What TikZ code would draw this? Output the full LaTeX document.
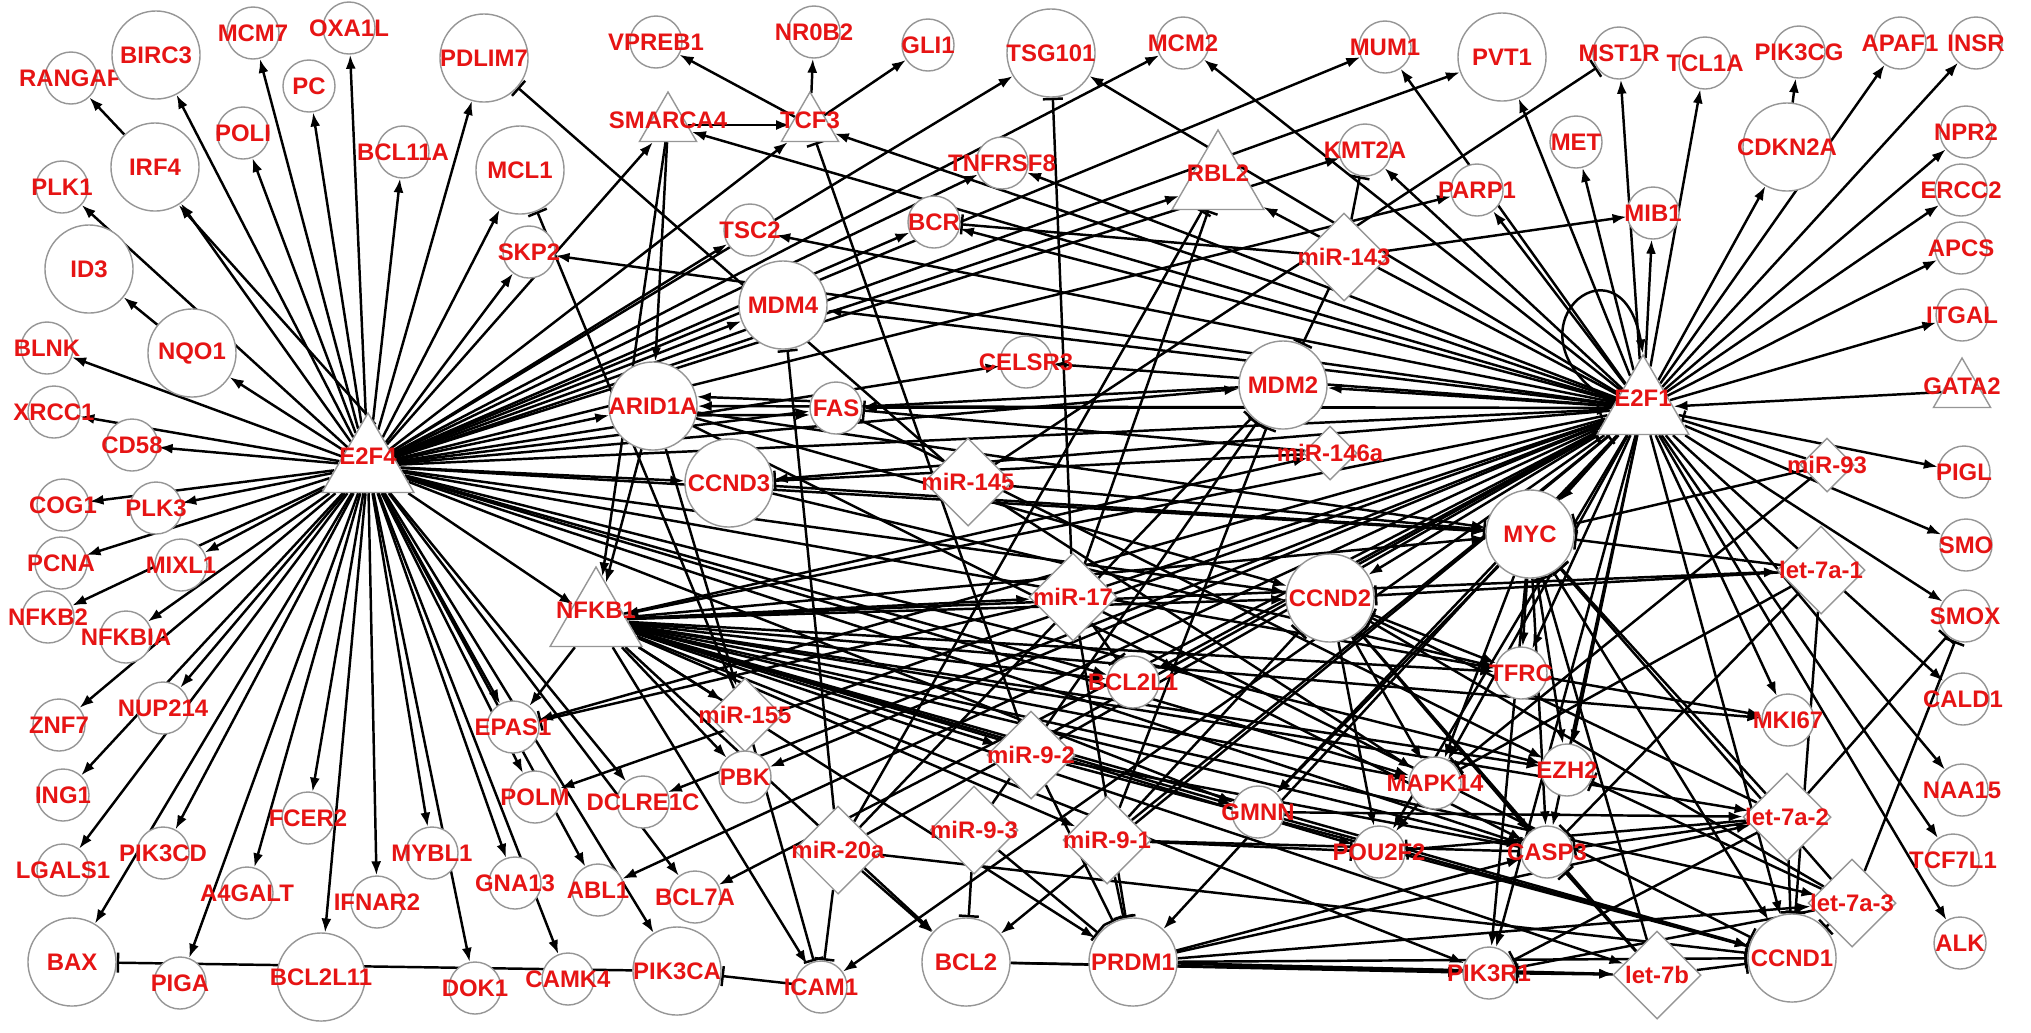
\documentclass[tikz,border=0pt]{standalone}
\usepackage{fontspec}
\setmainfont{Liberation Sans}
\usetikzlibrary{shapes,arrows.meta,backgrounds}
\definecolor{genered}{RGB}{230,20,20}
\definecolor{nodegray}{RGB}{150,150,150}

\begin{document}
\begin{tikzpicture}[
    x=0.01cm, y=-0.01cm,
    lbl/.style={font=\fontsize{6.8}{8}\selectfont\bfseries, text=genered, inner sep=0pt},
    tlbl/.style={lbl, yshift=0.1cm},
    tslbl/.style={lbl, yshift=0.05cm},
    gene/.style={circle, draw=nodegray, fill=white, line width=0.4pt, inner sep=0pt, minimum size=0.52cm},
    biggene/.style={gene, minimum size=0.88cm},
    tf/.style={regular polygon, regular polygon sides=3, draw=nodegray, fill=white, line width=0.4pt, inner sep=0pt, minimum size=1.06cm},
    smalltf/.style={tf, minimum size=0.66cm},
    mirna/.style={diamond, draw=nodegray, fill=white, line width=0.4pt, inner sep=0pt, minimum width=0.88cm, minimum height=0.88cm},
    midmirna/.style={mirna, minimum width=0.74cm, minimum height=0.74cm},
    smallmirna/.style={mirna, minimum width=0.54cm, minimum height=0.54cm},
    act/.style={-{Latex[length=1.4mm,width=1mm]}, line width=0.7pt},
    inh/.style={-{Bar[width=2mm]}, line width=0.7pt}
]
    \useasboundingbox (0,0) rectangle (2031,1032);

    % E2F4 hub and the genes round it
    \node[tf, label={[tlbl]center:E2F4}] (E2F4) at (368,466) {};
    \node[gene, label={[lbl]center:RANGAP}] (RANGAP) at (71,78) {};
    \node[biggene, label={[lbl]center:BIRC3}] (BIRC3) at (156,55) {};
    \node[gene, label={[lbl]center:MCM7}] (MCM7) at (253,33) {};
    \node[gene, label={[lbl]center:OXA1L}] (OXA1L) at (349,28) {};
    \node[gene, label={[lbl]center:PC}] (PC) at (309,86) {};
    \node[gene, label={[lbl]center:POLI}] (POLI) at (243,133) {};
    \node[gene, label={[lbl]center:BCL11A}] (BCL11A) at (403,152) {};
    \node[biggene, label={[lbl]center:PDLIM7}] (PDLIM7) at (484,58) {};
    \node[biggene, label={[lbl]center:MCL1}] (MCL1) at (520,170) {};
    \node[biggene, label={[lbl]center:IRF4}] (IRF4) at (155,167) {};
    \node[gene, label={[lbl]center:PLK1}] (PLK1) at (62,187) {};
    \node[biggene, label={[lbl]center:ID3}] (ID3) at (89,269) {};
    \node[biggene, label={[lbl]center:NQO1}] (NQO1) at (192,353) {};
    \node[gene, label={[lbl]center:BLNK}] (BLNK) at (47,348) {};
    \node[gene, label={[lbl]center:SKP2}] (SKP2) at (529,252) {};
    \node[gene, label={[lbl]center:XRCC1}] (XRCC1) at (54,412) {};
    \node[gene, label={[lbl]center:CD58}] (CD58) at (132,445) {};
    \node[gene, label={[lbl]center:COG1}] (COG1) at (63,505) {};
    \node[gene, label={[lbl]center:PLK3}] (PLK3) at (156,508) {};
    \node[gene, label={[lbl]center:PCNA}] (PCNA) at (61,563) {};
    \node[gene, label={[lbl]center:MIXL1}] (MIXL1) at (181,565) {};
    \node[gene, label={[lbl]center:NFKB2}] (NFKB2) at (48,617) {};
    \node[gene, label={[lbl]center:NFKBIA}] (NFKBIA) at (126,637) {};
    \node[gene, label={[lbl]center:ZNF7}] (ZNF7) at (59,725) {};
    \node[gene, label={[lbl]center:NUP214}] (NUP214) at (163,708) {};
    \node[gene, label={[lbl]center:ING1}] (ING1) at (63,795) {};
    \node[gene, label={[lbl]center:LGALS1}] (LGALS1) at (63,870) {};
    \node[gene, label={[lbl]center:PIK3CD}] (PIK3CD) at (163,853) {};
    \node[gene, label={[lbl]center:FCER2}] (FCER2) at (308,818) {};
    \node[gene, label={[lbl]center:A4GALT}] (A4GALT) at (247,893) {};
    \node[gene, label={[lbl]center:MYBL1}] (MYBL1) at (432,853) {};
    \node[gene, label={[lbl]center:IFNAR2}] (IFNAR2) at (377,902) {};
    \node[gene, label={[lbl]center:GNA13}] (GNA13) at (515,883) {};
    \node[gene, label={[lbl]center:ABL1}] (ABL1) at (598,890) {};
    \node[gene, label={[lbl]center:EPAS1}] (EPAS1) at (513,727) {};
    \node[gene, label={[lbl]center:POLM}] (POLM) at (535,797) {};
    \node[biggene, label={[lbl]center:BAX}] (BAX) at (72,962) {};
    \node[gene, label={[lbl]center:PIGA}] (PIGA) at (180,983) {};
    \node[biggene, label={[lbl]center:BCL2L11}] (BCL2L11) at (321,977) {};
    \node[gene, label={[lbl]center:DOK1}] (DOK1) at (475,988) {};
    \node[gene, label={[lbl]center:CAMK4}] (CAMK4) at (568,979) {};
    \node[biggene, label={[lbl]center:PIK3CA}] (PIK3CA) at (677,971) {};

    % middle part
    \node[gene, label={[lbl]center:VPREB1}] (VPREB1) at (656,42) {};
    \node[gene, label={[lbl]center:NR0B2}] (NR0B2) at (814,32) {};
    \node[gene, label={[lbl]center:GLI1}] (GLI1) at (928,45) {};
    \node[biggene, label={[lbl]center:TSG101}] (TSG101) at (1051,53) {};
    \node[gene, label={[lbl]center:MCM2}] (MCM2) at (1183,43) {};
    \node[smalltf, label={[tslbl]center:SMARCA4}] (SMARCA4) at (668,125) {};
    \node[smalltf, label={[tslbl]center:TCF3}] (TCF3) at (810,125) {};
    \node[gene, label={[lbl]center:TNFRSF8}] (TNFRSF8) at (1002,163) {};
    \node[tf, label={[tlbl]center:RBL2}] (RBL2) at (1218,183) {};
    \node[gene, label={[lbl]center:TSC2}] (TSC2) at (750,230) {};
    \node[gene, label={[lbl]center:BCR}] (BCR) at (934,222) {};
    \node[biggene, label={[lbl]center:MDM4}] (MDM4) at (783,305) {};
    \node[gene, label={[lbl]center:CELSR3}] (CELSR3) at (1026,362) {};
    \node[biggene, label={[lbl]center:ARID1A}] (ARID1A) at (653,406) {};
    \node[gene, label={[lbl]center:FAS}] (FAS) at (836,408) {};
    \node[biggene, label={[lbl]center:MDM2}] (MDM2) at (1283,385) {};
    \node[biggene, label={[lbl]center:CCND3}] (CCND3) at (729,483) {};
    \node[mirna, label={[lbl]center:miR-145}] (mir145) at (968,482) {};
    \node[smallmirna, label={[lbl]center:miR-146a}] (mir146a) at (1330,453) {};
    \node[tf, label={[tlbl]center:NFKB1}] (NFKB1) at (596,620) {};
    \node[mirna, label={[lbl]center:miR-17}] (mir17) at (1073,597) {};
    \node[biggene, label={[lbl]center:CCND2}] (CCND2) at (1330,598) {};
    \node[gene, label={[lbl]center:BCL2L1}] (BCL2L1) at (1133,682) {};
    \node[midmirna, label={[lbl]center:miR-155}] (mir155) at (745,715) {};
    \node[gene, label={[lbl]center:PBK}] (PBK) at (745,777) {};
    \node[gene, label={[lbl]center:DCLRE1C}] (DCLRE1C) at (643,802) {};
    \node[mirna, label={[lbl]center:miR-9-2}] (mir9b) at (1031,755) {};
    \node[mirna, label={[lbl]center:miR-20a}] (mir20a) at (838,850) {};
    \node[mirna, label={[lbl]center:miR-9-3}] (mir9c) at (974,830) {};
    \node[mirna, label={[lbl]center:miR-9-1}] (mir9a) at (1107,840) {};
    \node[gene, label={[lbl]center:GMNN}] (GMNN) at (1258,812) {};
    \node[gene, label={[lbl]center:BCL7A}] (BCL7A) at (695,897) {};
    \node[gene, label={[lbl]center:ICAM1}] (ICAM1) at (821,987) {};
    \node[biggene, label={[lbl]center:BCL2}] (BCL2) at (966,962) {};
    \node[biggene, label={[lbl]center:PRDM1}] (PRDM1) at (1133,962) {};
    \node[gene, label={[lbl]center:MAPK14}] (MAPK14) at (1435,783) {};
    \node[gene, label={[lbl]center:EZH2}] (EZH2) at (1567,770) {};
    \node[gene, label={[lbl]center:POU2F2}] (POU2F2) at (1379,852) {};
    \node[gene, label={[lbl]center:CASP3}] (CASP3) at (1547,852) {};
    \node[gene, label={[lbl]center:PIK3R1}] (PIK3R1) at (1489,973) {};
    \node[mirna, label={[lbl]center:let-7b}] (let7b) at (1657,975) {};
    \node[biggene, label={[lbl]center:CCND1}] (CCND1) at (1792,958) {};

    % E2F1 hub and the genes round it
    \node[tf, label={[tlbl]center:E2F1}] (E2F1) at (1643,408) {};
    \node[gene, label={[lbl]center:MUM1}] (MUM1) at (1385,47) {};
    \node[biggene, label={[lbl]center:PVT1}] (PVT1) at (1502,57) {};
    \node[gene, label={[lbl]center:MST1R}] (MST1R) at (1619,53) {};
    \node[gene, label={[lbl]center:TCL1A}] (TCL1A) at (1705,63) {};
    \node[gene, label={[lbl]center:PIK3CG}] (PIK3CG) at (1799,52) {};
    \node[gene, label={[lbl]center:APAF1}] (APAF1) at (1900,43) {};
    \node[gene, label={[lbl]center:INSR}] (INSR) at (1976,43) {};
    \node[gene, label={[lbl]center:KMT2A}] (KMT2A) at (1365,150) {};
    \node[gene, label={[lbl]center:PARP1}] (PARP1) at (1477,190) {};
    \node[gene, label={[lbl]center:MET}] (MET) at (1576,142) {};
    \node[gene, label={[lbl]center:MIB1}] (MIB1) at (1653,213) {};
    \node[biggene, label={[lbl]center:CDKN2A}] (CDKN2A) at (1787,147) {};
    \node[gene, label={[lbl]center:NPR2}] (NPR2) at (1966,132) {};
    \node[gene, label={[lbl]center:ERCC2}] (ERCC2) at (1961,190) {};
    \node[gene, label={[lbl]center:APCS}] (APCS) at (1961,248) {};
    \node[gene, label={[lbl]center:ITGAL}] (ITGAL) at (1962,315) {};
    \node[smalltf, label={[tslbl]center:GATA2}] (GATA2) at (1962,391) {};
    \node[mirna, label={[lbl]center:miR-143}] (mir143) at (1344,257) {};
    \node[smallmirna, label={[lbl]center:miR-93}] (mir93) at (1827,465) {};
    \node[gene, label={[lbl]center:PIGL}] (PIGL) at (1964,472) {};
    \node[biggene, label={[lbl]center:MYC}] (MYC) at (1530,534) {};
    \node[gene, label={[lbl]center:SMO}] (SMO) at (1966,545) {};
    \node[mirna, label={[lbl]center:let-7a-1}] (let7a1) at (1821,570) {};
    \node[gene, label={[lbl]center:SMOX}] (SMOX) at (1965,616) {};
    \node[gene, label={[lbl]center:TFRC}] (TFRC) at (1521,673) {};
    \node[gene, label={[lbl]center:CALD1}] (CALD1) at (1963,699) {};
    \node[gene, label={[lbl]center:MKI67}] (MKI67) at (1788,720) {};
    \node[gene, label={[lbl]center:NAA15}] (NAA15) at (1962,790) {};
    \node[mirna, label={[lbl]center:let-7a-2}] (let7a2) at (1787,817) {};
    \node[gene, label={[lbl]center:TCF7L1}] (TCF7L1) at (1953,860) {};
    \node[mirna, label={[lbl]center:let-7a-3}] (let7a3) at (1852,903) {};
    \node[gene, label={[lbl]center:ALK}] (ALK) at (1960,943) {};

    % Edges
    \begin{scope}[on background layer]
    \foreach \t in {BIRC3,MCM7,OXA1L,PC,POLI,BCL11A,PDLIM7,MCL1,IRF4,PLK1,NQO1,BLNK,XRCC1,CD58,COG1,PLK3,PCNA,MIXL1,NFKB2,NFKBIA,ZNF7,NUP214,ING1,LGALS1,PIK3CD,BAX,FCER2,PIGA,A4GALT,BCL2L11,IFNAR2,MYBL1,DOK1,GNA13,CAMK4,EPAS1,POLM,ABL1,PIK3CA,BCL7A,DCLRE1C,NFKB1,SKP2,SMARCA4,TCF3,TSC2,BCR,TNFRSF8,TSG101,MCM2,MUM1,PVT1,KMT2A,PARP1,RBL2,MDM4,ARID1A,FAS,CELSR3,MDM2,CCND3,E2F1,MYC,CCND2,TFRC,CASP3,GMNN,BCL2L1,EZH2,MAPK14}
        \draw[act] (E2F4) -- (\t);
    \draw[act] (E2F4.80) -- (IRF4.-58);
    \foreach \t in {MUM1,PVT1,MET,MST1R,TCL1A,MIB1,CDKN2A,APAF1,INSR,NPR2,ERCC2,APCS,ITGAL,PIGL,SMO,SMOX,CALD1,NAA15,TCF7L1,ALK,MKI67,KMT2A,PARP1,MCM2,TSG101,RBL2,TCF3,SMARCA4,TNFRSF8,BCR,TSC2,SKP2,MDM4,MDM2,FAS,ARID1A,CCND3,CELSR3,NFKB1,MYC,CCND2,TFRC,EZH2,MAPK14,CASP3,POU2F2,PIK3R1,CCND1,BCL2,PRDM1,BCL2L1,GMNN,PBK,DCLRE1C,POLM,BCL7A,ABL1,EPAS1,ICAM1}
        \draw[act] (E2F1) -- (\t);
    \draw[act] (E2F1.172) .. controls +(150:1.4cm) and +(100:1.3cm) .. (E2F1.north);
    \draw[act] (GATA2) -- (E2F1);
    \draw[act] (CDKN2A) -- (PIK3CG);
    \draw[act] (IRF4) -- (RANGAP);
    \draw[act] (NQO1) -- (ID3);
    \draw[act] (SMARCA4) -- (TCF3);
    \foreach \t in {VPREB1,NR0B2,GLI1}
        \draw[act] (TCF3) -- (\t);
    \draw[act] (mir143) -- (MIB1);
    \draw[act] (FAS.165) -- (ARID1A.12);
    \draw[act] (ARID1A.-12) -- (FAS.-165);
    \draw[act] (MDM2) -- (FAS);
    \draw[act] (SMARCA4) -- (NFKB1);
    \draw[act] (SMARCA4) -- (ARID1A);
    \foreach \t in {NFKB1,mir155,MYC,CCND2,CASP3}
        \draw[act] (ARID1A) -- (\t);
    \foreach \t in {MYC,TFRC}
        \draw[act] (CCND3) -- (\t);
    \draw[act] (FAS) -- (EZH2);
    \draw[inh] (PIK3CA) -- (BAX);
    \draw[inh] (ICAM1) -- (PIK3CA);
    \foreach \t in {mir17,mir155,mir146a,mir9b,mir9a,BCL2L1,CCND2,MYC,BCL2,ICAM1,GMNN,PBK,TFRC,MAPK14,CASP3,CCND1,EZH2,EPAS1,let7a1,let7a2,let7a3,MKI67,POU2F2,PIK3R1,let7b,PRDM1}
        \draw[act] (NFKB1) -- (\t);
    \foreach \t in {TFRC,EZH2,CASP3,PIK3R1,GMNN,MAPK14,CCND1}
        \draw[act] (MYC) -- (\t);
    \foreach \t in {TFRC,MAPK14,CASP3,POU2F2}
        \draw[act] (CCND2) -- (\t);
    \draw[act] (TFRC) -- (MKI67);
    \draw[act] (MAPK14) -- (POU2F2);
    \foreach \t in {let7a2,CCND1}
        \draw[act] (GMNN) -- (\t);
    \foreach \t in {PIK3R1,let7b}
        \draw[act] (BCL2) -- (\t);
    \foreach \t in {PIK3R1,let7b,let7a3,let7a2,CASP3}
        \draw[act] (PRDM1) -- (\t);
    \draw[inh] (PRDM1) -- (CCND1);
    \draw[act] (mir20a) -- (BCL2);
    \draw[act] (mir145) -- (MAPK14);

    % microRNA targets
    \foreach \t in {TSG101,RBL2,E2F1,CCND1,BCL2L1,PRDM1,EPAS1}
        \draw[inh] (mir17) -- (\t);
    \foreach \t in {RBL2,E2F1,CCND1,ICAM1,MDM4,MDM2}
        \draw[inh] (mir20a) -- (\t);
    \foreach \t in {PDLIM7,MYC,MST1R}
        \draw[inh] (mir145) -- (\t);
    \foreach \t in {MCL1,ICAM1}
        \draw[inh] (mir155) -- (\t);
    \foreach \t in {TCF3,PRDM1,CCND1,CASP3,E2F1}
        \draw[inh] (mir9b) -- (\t);
    \foreach \t in {PRDM1,BCL2,MDM2}
        \draw[inh] (mir9c) -- (\t);
    \foreach \t in {PRDM1,CASP3,POU2F2,CCND2,E2F1,MDM2}
        \draw[inh] (mir9a) -- (\t);
    \foreach \t in {FAS,CCND3}
        \draw[inh] (mir146a) -- (\t);
    \foreach \t in {E2F1,MYC,MAPK14}
        \draw[inh] (mir93) -- (\t);
    \foreach \t in {MDM2,BCR,KMT2A}
        \draw[inh] (mir143) -- (\t);
    \foreach \t in {MYC,CCND2,CCND1,CASP3,MAPK14}
        \draw[inh] (let7a1) -- (\t);
    \foreach \t in {MYC,CCND2,CCND1,CASP3,PIK3R1,SMOX,POU2F2}
        \draw[inh] (let7a2) -- (\t);
    \foreach \t in {MYC,CCND2,CCND1,PIK3R1,SMOX,EZH2}
        \draw[inh] (let7a3) -- (\t);
    \foreach \t in {MYC,CCND2,CCND1,CASP3,PIK3R1}
        \draw[inh] (let7b) -- (\t);
    \end{scope}
\end{tikzpicture}
\end{document}
